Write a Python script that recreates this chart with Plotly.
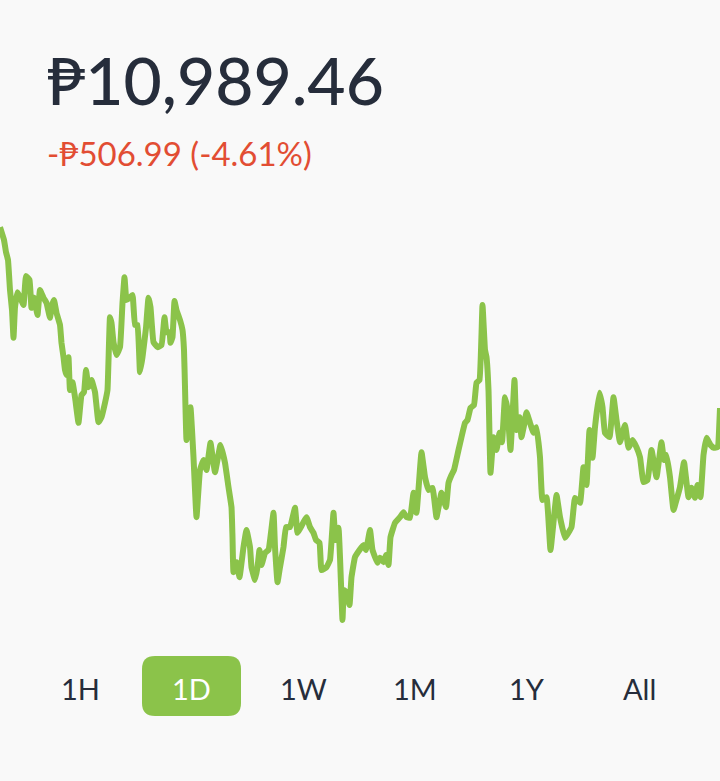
import plotly.graph_objects as go

# 1D price trace, minutes since start of day
minutes = [
    0, 8, 12, 16, 20, 24, 27, 30, 35, 40, 47, 52, 59, 63, 68, 75, 80, 87, 93, 100,
    103, 108, 113, 120, 123, 127, 130, 133, 137, 140, 145, 150, 157, 163, 168, 172, 177, 183, 190, 197,
    203, 210, 215, 220, 223, 227, 233, 240, 245, 249, 253, 259, 265, 270, 275, 280, 285, 292, 297, 301,
    307, 315, 323, 329, 333, 339, 341, 345, 349, 353, 360, 365, 368,
    370, 373, 377, 381, 387, 393, 400, 407, 413, 421, 430, 441, 450, 457, 463, 465, 467, 473, 479, 487,
    493, 500, 503, 510, 515, 519, 523, 530, 537, 547, 550, 555, 560, 567, 572, 580, 590, 595, 601, 613,
    620, 627, 632, 639, 643, 653, 660, 667, 671, 677, 680, 685, 688, 693, 699, 703, 710, 719, 727, 732,
    740, 745, 755, 760, 767, 772, 777, 781, 790, 800, 807, 813, 820, 827, 833, 843,
    850, 857, 865, 873, 883, 892, 897, 903, 908, 917, 923, 930, 935, 941, 948, 953, 959, 965, 970, 973,
    977, 981, 987, 993, 999, 1004, 1010, 1015, 1021, 1029, 1033, 1039, 1043, 1049, 1053, 1060, 1067, 1073, 1080,
    1085, 1093, 1101, 1113, 1120, 1130, 1143, 1150, 1160, 1167, 1173, 1179, 1185, 1190, 1199, 1205, 1210, 1219,
    1227, 1233, 1240, 1250, 1257, 1265, 1273, 1280, 1287, 1295, 1303, 1313, 1323, 1328, 1333, 1340, 1347, 1353,
    1360, 1368, 1377, 1383, 1390, 1395, 1401, 1407, 1413, 1421, 1428, 1435, 1440,
]
prices = [
    11496, 11460, 11426, 11404, 11320, 11264, 11186, 11272, 11314, 11300, 11278, 11359, 11348, 11270, 11298, 11250, 11320, 11298, 11284, 11242,
    11272, 11292, 11256, 11222, 11172, 11132, 11096, 11082, 11132, 11040, 11062, 11020, 10948, 11026, 11034, 11096, 11048, 11068, 11034, 10950,
    10964, 11004, 11040, 11244, 11228, 11174, 11138, 11160, 11284, 11356, 11292, 11298, 11306, 11222, 11222, 11090, 11132, 11214, 11298, 11272,
    11174, 11160, 11166, 11244, 11202, 11202, 11172, 11188, 11289, 11264, 11236, 11208, 11152,
    11048, 10900, 10948, 10992, 10852, 10684, 10816, 10844, 10816, 10892, 10810, 10886, 10836, 10768, 10712, 10628, 10530, 10558, 10516, 10600,
    10648, 10600, 10544, 10508, 10544, 10592, 10550, 10584, 10592, 10696, 10600, 10502, 10544, 10600, 10656, 10656, 10710, 10640, 10654, 10684,
    10656, 10640, 10620, 10612, 10536, 10544, 10564, 10696, 10620, 10654, 10572, 10396, 10480, 10474, 10438, 10516, 10572, 10592, 10606, 10592,
    10648, 10592, 10556, 10570, 10558, 10578, 10550, 10628, 10668, 10684, 10698, 10684, 10682, 10752, 10696, 10866,
    10796, 10760, 10766, 10684, 10752, 10712, 10780, 10802, 10816, 10872, 10908, 10948, 10956, 10990, 10998, 11060, 11068, 11278, 11152, 11132,
    11040, 10808, 10908, 10872, 10920, 10894, 11020, 10984, 10872, 11068, 10928, 10964, 10908, 10948, 10978, 10948, 10920, 10936, 10852,
    10732, 10740, 10592, 10746, 10684, 10626, 10656, 10738, 10724, 10824, 10774, 10928, 10850, 10936, 11032, 10992, 10920, 10908,
    11020, 10956, 10894, 10942, 10878, 10900, 10880, 10852, 10782, 10788, 10872, 10796, 10894, 10844, 10858, 10796, 10704, 10732,
    10768, 10838, 10740, 10766, 10738, 10774, 10740, 10858, 10906, 10886, 10878, 10880, 10989.46,
]

price_text = "₱10,989.46"
change_text = "-₱506.99 (-4.61%)"
ranges = ["1H", "1D", "1W", "1M", "1Y", "All"]
selected = "1D"

W, H = 720, 781
bg = "#f9f9f9"
green = "#8bc34a"
font = "Lato"


def py(p):
    # pixel row -> paper y
    return 1 - p / H


fig = go.Figure()
fig.add_trace(go.Scatter(x=minutes, y=prices, mode="lines",
                         line=dict(color=green, width=6, shape="spline", smoothing=0.3),
                         hoverinfo="skip"))

fig.add_annotation(text=price_text, x=45 / W, y=py(79), xref="paper", yref="paper",
                   xanchor="left", yanchor="middle", showarrow=False,
                   font=dict(family=font, size=66, color="#262d3b", weight=500))
fig.add_annotation(text=change_text, x=45 / W, y=py(153), xref="paper", yref="paper",
                   xanchor="left", yanchor="middle", showarrow=False,
                   font=dict(family=font, size=33, color="#e24d33"))

# rounded box behind the selected range
x0, x1, y0, y1, r = 142, 241, 656, 716, 13
path = (f"M {(x0 + r) / W},{py(y0)} L {(x1 - r) / W},{py(y0)} "
        f"Q {x1 / W},{py(y0)} {x1 / W},{py(y0 + r)} L {x1 / W},{py(y1 - r)} "
        f"Q {x1 / W},{py(y1)} {(x1 - r) / W},{py(y1)} L {(x0 + r) / W},{py(y1)} "
        f"Q {x0 / W},{py(y1)} {x0 / W},{py(y1 - r)} L {x0 / W},{py(y0 + r)} "
        f"Q {x0 / W},{py(y0)} {(x0 + r) / W},{py(y0)} Z")
fig.add_shape(type="path", path=path, xref="paper", yref="paper",
              fillcolor=green, line=dict(width=0), layer="below")

for i, lab in enumerate(ranges):
    fig.add_annotation(text=lab, x=(80 + 111.8 * i) / W, y=py(688), xref="paper", yref="paper",
                       xanchor="center", yanchor="middle", showarrow=False,
                       font=dict(family=font, size=29,
                                 color="white" if lab == selected else "#262d3b"))

fig.update_layout(width=W, height=H, margin=dict(l=0, r=0, t=0, b=0),
                  paper_bgcolor=bg, plot_bgcolor=bg, showlegend=False,
                  xaxis=dict(range=[0, 1440], visible=False, fixedrange=True),
                  yaxis=dict(range=[12132 - 2.8 * H, 12132], visible=False, fixedrange=True))

# page has a default 8px body margin, drop it so the figure fills the window
fig.write_html("out.html", config={"displayModeBar": False},
               post_script="document.body.style.margin='0';document.body.style.background='#f9f9f9';")
